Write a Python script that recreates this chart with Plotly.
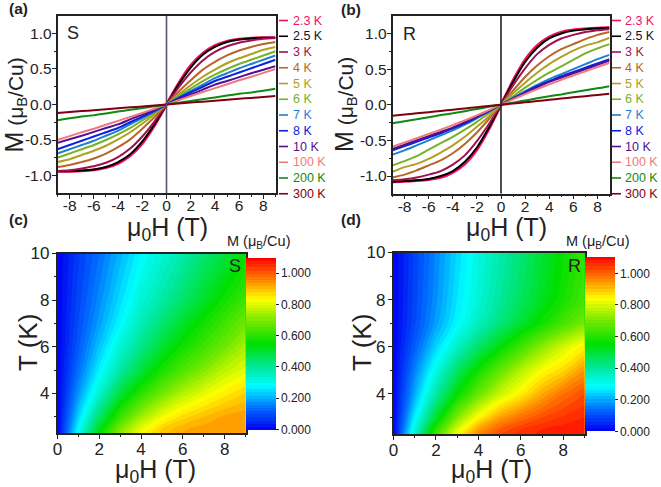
import plotly.graph_objects as go

W, H_PX = 661, 487
FONT = "Liberation Sans"

field = [0, 1, 2, 3, 4, 5, 6, 7, 8, 9]
labels = ["2.3 K", "2.5 K", "3 K", "4 K", "5 K", "6 K", "7 K", "8 K", "10 K", "100 K", "200 K", "300 K"]
colors = ["#f0105f", "#000000", "#a01050", "#b8652a", "#b0a020", "#78b028",
          "#1f80d0", "#0a20e0", "#50108f", "#f07880", "#108a10", "#800010"]
temps_low = [2.3, 2.5, 3, 4, 5, 6, 7, 8, 10]
hyst_ticks = [-8, -6, -4, -2, 0, 2, 4, 6, 8]
hyst_ticktext = ["-8", "-6", "-4", "-2", "0", "2", "4", "6", "8"]
moment_ticks = [-1, -.5, 0, .5, 1]
moment_ticktext = ["-1.0", "-0.5", "0.0", "0.5", "1.0"]

M_S = [
    [0, .30, .55, .72, .83, .89, .92, .935, .94, .94],
    [0, .28, .52, .70, .81, .88, .915, .93, .94, .94],
    [0, .24, .45, .62, .74, .82, .87, .90, .925, .935],
    [0, .18, .34, .49, .60, .69, .76, .81, .85, .88],
    [0, .14, .27, .39, .49, .58, .65, .71, .77, .81],
    [0, .115, .225, .33, .42, .50, .57, .63, .69, .75],
    [0, .10, .19, .28, .37, .44, .51, .57, .63, .69],
    [0, .09, .17, .25, .33, .39, .45, .51, .57, .63],
    [0, .075, .14, .21, .28, .33, .385, .44, .49, .54],
    [0, .06, .12, .175, .23, .285, .34, .39, .445, .50],
    [0, .025, .05, .075, .10, .125, .15, .17, .195, .22],
    [0, .013, .027, .04, .053, .067, .08, .093, .107, .12],
]
M_R = [
    [0, .34, .63, .83, .95, 1.02, 1.05, 1.065, 1.075, 1.08],
    [0, .32, .60, .80, .93, 1.0, 1.04, 1.06, 1.07, 1.08],
    [0, .27, .51, .71, .84, .93, .98, 1.02, 1.045, 1.06],
    [0, .20, .39, .55, .68, .78, .85, .92, .98, 1.02],
    [0, .16, .31, .45, .57, .67, .76, .83, .875, .94],
    [0, .12, .24, .35, .45, .54, .63, .72, .79, .85],
    [0, .095, .19, .28, .36, .43, .50, .57, .64, .70],
    [0, .09, .175, .26, .33, .40, .46, .52, .58, .64],
    [0, .085, .165, .245, .32, .38, .44, .50, .56, .62],
    [0, .075, .15, .22, .285, .35, .41, .47, .53, .59],
    [0, .03, .06, .09, .12, .145, .175, .205, .23, .26],
    [0, .017, .035, .052, .07, .087, .104, .12, .138, .155],
]

colorscale = [
    [0.0, "#0000f0"], [0.13, "#0070ff"], [0.255, "#00ffff"], [0.36, "#00e8a0"],
    [0.5, "#00e000"], [0.63, "#70e800"], [0.76, "#ffff00"], [0.86, "#ff9000"], [1.0, "#ff0000"],
]

def px(x0, x1):
    return [x0 / W, x1 / W]

def py(y0, y1):
    return [1 - y1 / H_PX, 1 - y0 / H_PX]

fig = go.Figure()
boxes = {
    "": (57.5, 275.5, 16, 193),
    "2": (392.5, 609.5, 16, 193.5),
    "3": (57.5, 245.5, 253.5, 433),
    "4": (393.5, 584.5, 252.5, 434),
}
common = dict(showgrid=False, zeroline=False, showline=True, mirror=True, linecolor="#222222", linewidth=1.5,
              ticks="outside", ticklen=4, tickwidth=1.2, tickcolor="#222222", color="#222222")
minor_tick = dict(ticks="outside", ticklen=2, tickcolor="#222222")
for key, (x0, x1, y0, y1) in boxes.items():
    xa = dict(common, domain=px(x0, x1), anchor="y" + key)
    ya = dict(common, domain=py(y0, y1), anchor="x" + key)
    if key in ("", "2"):
        xa.update(range=[-9, 9], tickvals=hyst_ticks, ticktext=hyst_ticktext, ticklabelstandoff=-6,
                  tickfont=dict(family=FONT, size=15.5), minor=dict(minor_tick, dtick=1))
        ya.update(range=[-1.245, 1.245], tickvals=moment_ticks, ticktext=moment_ticktext, ticklabelstandoff=-3,
                  tickfont=dict(family=FONT, size=15.5), minor=dict(minor_tick, dtick=.25))
    else:
        xa.update(range=[0, 9], tickvals=[0, 2, 4, 6, 8], tickfont=dict(family=FONT, size=17),
                  ticklabelstandoff=-4, minor=dict(minor_tick, dtick=1))
        ya.update(range=[2.3, 10], tickvals=[4, 6, 8, 10], tickfont=dict(family=FONT, size=17),
                  ticklabelstandoff=-1, minor=dict(minor_tick, dtick=1))
    fig.layout["xaxis" + key] = xa
    fig.layout["yaxis" + key] = ya

annotations, shapes = [], []

def label(x, y, text, size, color="#222222", anchor="left", bold=False, angle=0):
    t = f"<b>{text}</b>" if bold else text
    annotations.append(dict(xref="paper", yref="paper", x=x / W, y=1 - y / H_PX, text=t, showarrow=False,
                            xanchor=anchor, yanchor="middle", align="left", textangle=angle,
                            font=dict(family=FONT, size=size, color=color)))

for table, xn, yn, dash0, text_x in ((M_S, "x", "y", 279, 290.5), (M_R, "x2", "y2", 612, 623)):
    for row, name, c in zip(table, labels, colors):
        xs = [-h for h in reversed(field)] + field[1:]
        ys = [-m for m in reversed(row)] + row[1:]
        width = 2.8 if name == "2.3 K" else 2.0
        fig.add_trace(go.Scatter(x=xs, y=ys, mode="lines", line=dict(color=c, width=width, shape="spline", smoothing=0.6),
                                 xaxis=xn, yaxis=yn, showlegend=False, name=name))
    shapes.append(dict(type="line", xref=xn, yref=yn + " domain", x0=0, x1=0, y0=0, y1=1,
                       line=dict(color="#555566" if xn == "x" else "#222222", width=1.6)))
    for i, (name, c) in enumerate(zip(labels, colors)):
        yy = 20.5 + i * 15.75
        shapes.append(dict(type="line", xref="paper", yref="paper", x0=dash0 / W, x1=(dash0 + 9) / W,
                           y0=1 - yy / H_PX, y1=1 - yy / H_PX, line=dict(color=c, width=1.6)))
        label(text_x, yy, name, 12.5, c if c != "#000000" else "#101030")

for table, xn, yn, cb_x, cb_y0, cb_y1 in ((M_S, "x3", "y3", 245.5, 258, 429.5), (M_R, "x4", "y4", 585, 258, 431.5)):
    fig.add_trace(go.Contour(
        x=field, y=temps_low, z=table[:9], xaxis=xn, yaxis=yn, colorscale=colorscale, zmin=0, zmax=1.1,
        autocontour=False, contours=dict(start=0, end=1.1, size=0.02, coloring="fill", showlines=False),
        line=dict(width=0),
        colorbar=dict(x=cb_x / W, xanchor="left", xpad=0, ypad=0, thickness=30, thicknessmode="pixels",
                      y=1 - cb_y1 / H_PX, yanchor="bottom", len=(cb_y1 - cb_y0) / H_PX, lenmode="fraction",
                      tickvals=[0, .2, .4, .6, .8, 1.0], tickformat=".3f", ticks="outside", ticklen=3,
                      tickcolor="#222222", outlinewidth=0,
                      tickfont=dict(family=FONT, size=12, color="#222222")),
    ))

label(7, 8.5, "(a)", 15.5, bold=True)
label(339, 9.5, "(b)", 15.5, bold=True)
label(7, 219.5, "(c)", 15.5, bold=True)
label(339, 219.5, "(d)", 15.5, bold=True)
label(65, 33, "S", 18)
label(401, 34, "R", 18)
label(227, 266, "S", 18)
label(566, 266, "R", 18)
label(225, 241.5, "M (μ<sub>B</sub>/Cu)", 14.5)
label(564, 241.5, "M (μ<sub>B</sub>/Cu)", 14.5)

M_TITLE = "<span style='font-size:25px'>M</span> (μ<sub>B</sub>/Cu)"
H_TITLE = "μ<sub>0</sub>H (T)"
label(14.5, 105, M_TITLE, 21, anchor="center", angle=-90)
label(345, 105, M_TITLE, 21, anchor="center", angle=-90)
label(167.5, 229, H_TITLE, 25, anchor="center")
label(506, 229, H_TITLE, 25, anchor="center")
label(28, 343, "T (K)", 26, anchor="center", angle=-90)
label(362, 343, "T (K)", 26, anchor="center", angle=-90)
label(155, 471, H_TITLE, 25, anchor="center")
label(492, 471, H_TITLE, 25, anchor="center")

fig.update_layout(width=W, height=H_PX, margin=dict(l=0, r=0, t=0, b=0, autoexpand=False), paper_bgcolor="white",
                  plot_bgcolor="white", showlegend=False, annotations=annotations, shapes=shapes,
                  font=dict(family=FONT))
fig.write_html("out.html", config=dict(displayModeBar=False),
               post_script="document.body.style.margin='0';")
